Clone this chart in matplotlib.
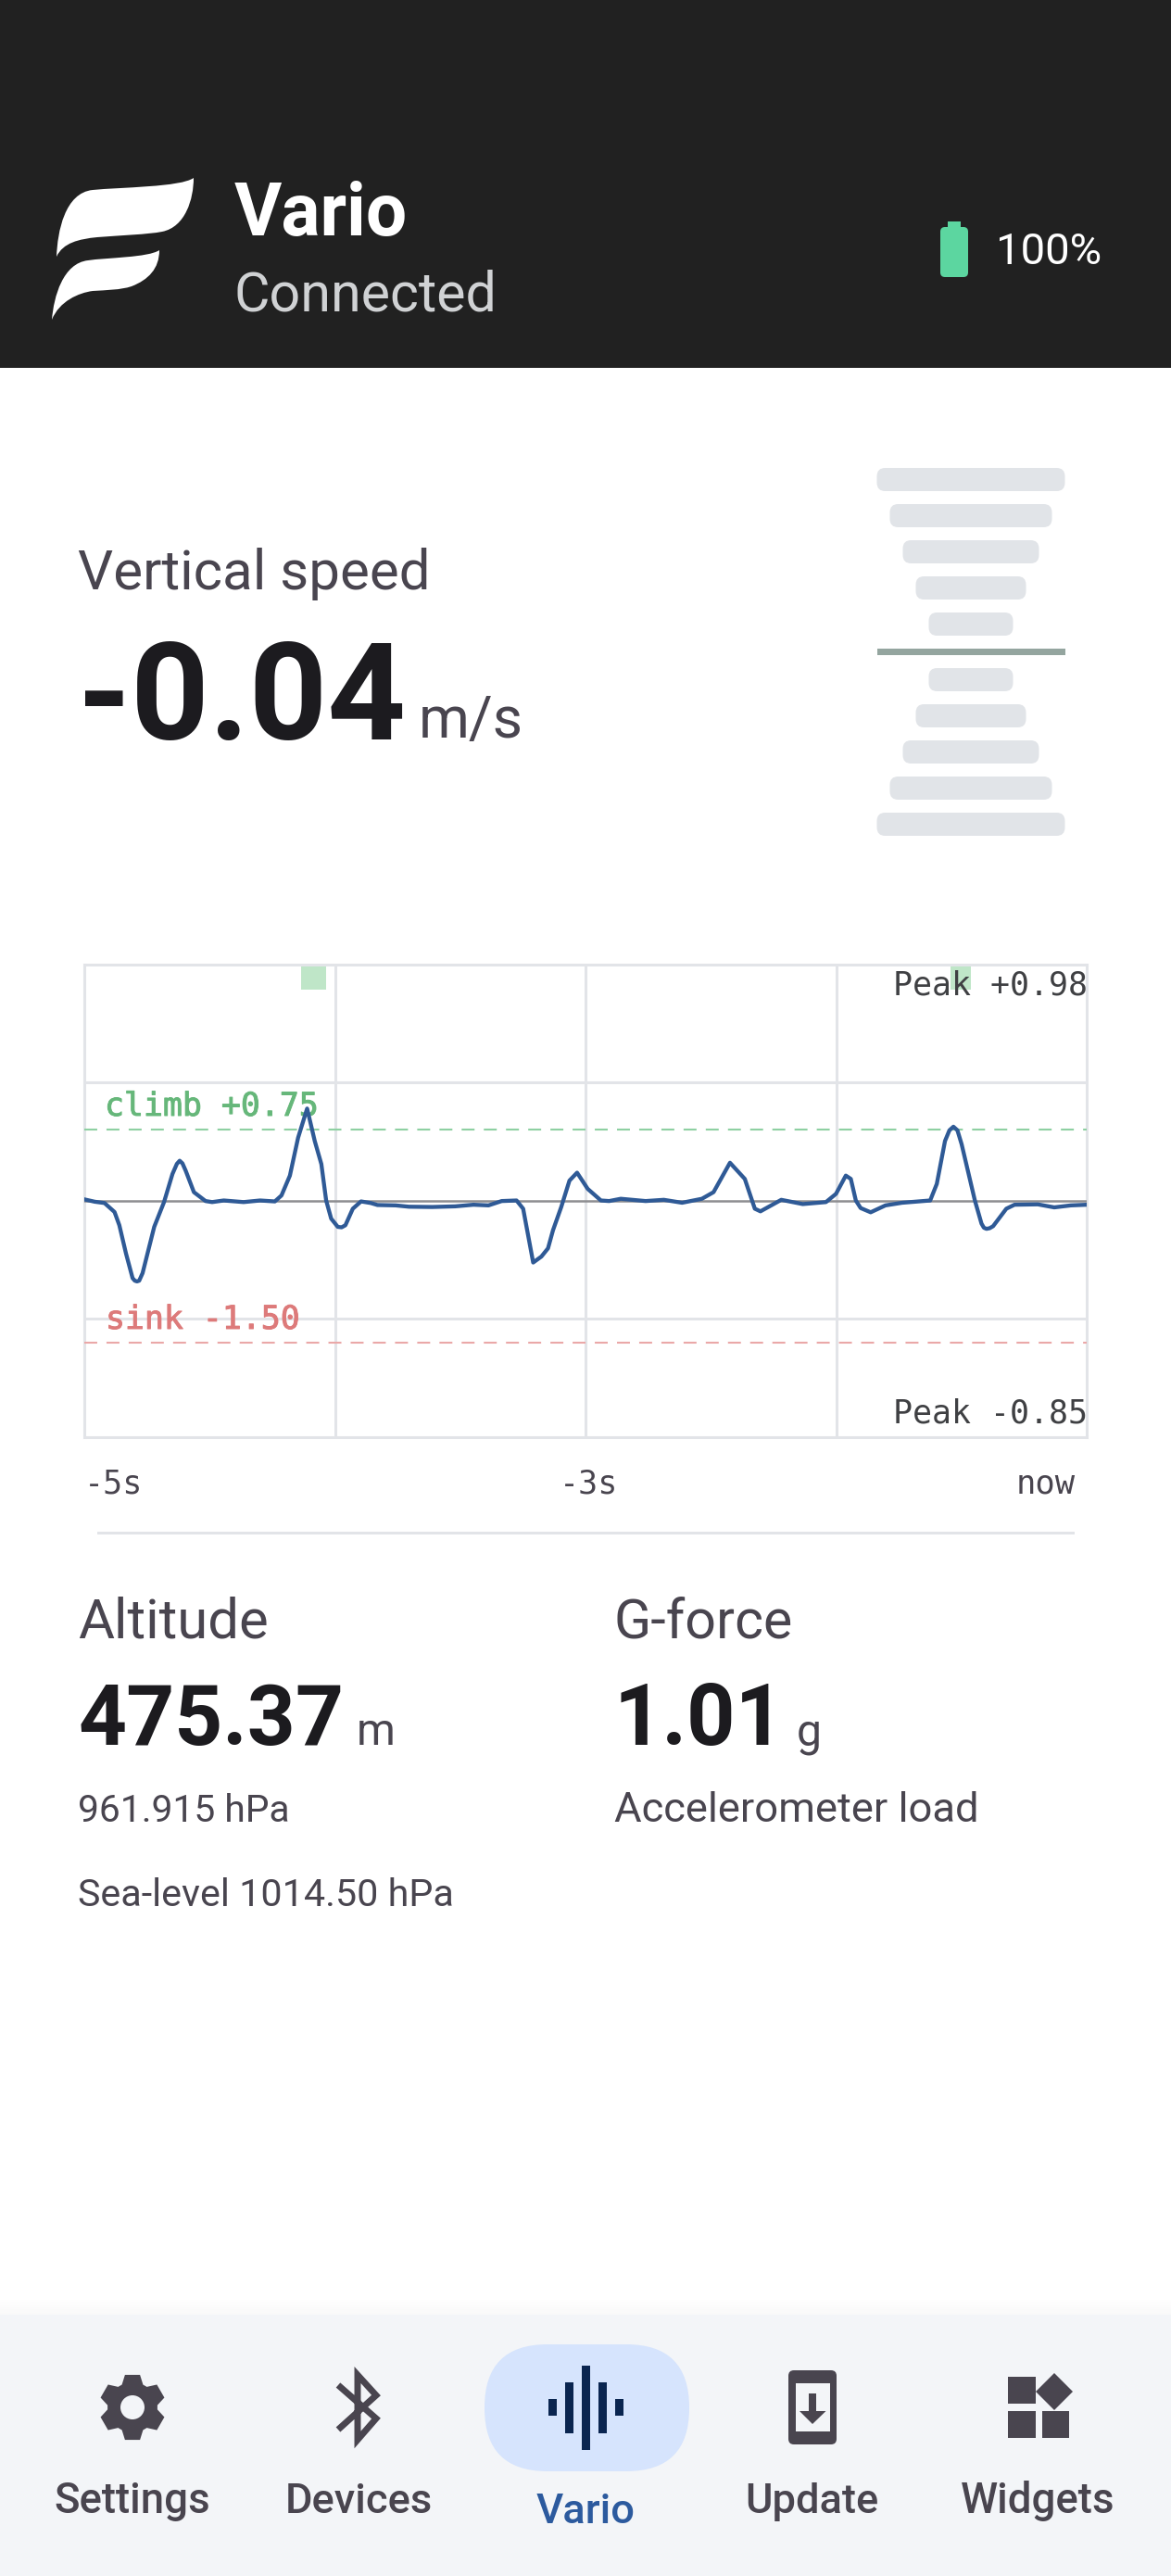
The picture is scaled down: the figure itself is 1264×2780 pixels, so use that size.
import numpy as np
import matplotlib
matplotlib.use("Agg")
import matplotlib.pyplot as plt
import matplotlib.patheffects as pe
from matplotlib.patches import FancyBboxPatch, Rectangle, Circle, Polygon, PathPatch
from matplotlib.path import Path

# vertical speed trace, seconds before now / m/s
trace_t = [-5.000, -4.950, -4.901, -4.851, -4.827, -4.794, -4.761, -4.750, -4.739, -4.728, -4.711, -4.653,
           -4.604, -4.562, -4.540, -4.526, -4.512, -4.496, -4.455, -4.397, -4.364, -4.306, -4.207, -4.125,
           -4.051, -4.018, -3.976, -3.935, -3.890, -3.852, -3.819, -3.795, -3.770, -3.737, -3.718,
           -3.699, -3.662, -3.621, -3.572, -3.539, -3.448, -3.382, -3.266, -3.151, -3.060,
           -2.985, -2.919, -2.845, -2.812, -2.762, -2.721, -2.688, -2.663, -2.622, -2.581,
           -2.543, -2.490, -2.424, -2.383, -2.325, -2.201, -2.110, -2.019, -1.920, -1.862,
           -1.780, -1.706, -1.681, -1.656, -1.628, -1.524, -1.417, -1.301, -1.251, -1.202,
           -1.177, -1.152, -1.128, -1.078, -1.004, -0.921, -0.781, -0.748, -0.707, -0.685, -0.665, -0.645,
           -0.624, -0.558, -0.525, -0.513, -0.500, -0.484, -0.467, -0.401, -0.360, -0.244, -0.162, -0.079, 0.0]
trace_v = [0.014, -0.010, -0.024, -0.119, -0.259, -0.556, -0.818, -0.845, -0.853, -0.845, -0.765, -0.276,
           -0.014, 0.283, 0.390, 0.423, 0.395, 0.318, 0.091, -0.003, -0.014, 0.003, -0.014, 0.003,
           -0.007, 0.056, 0.266, 0.667, 0.975, 0.632, 0.388, 0.003, -0.189, -0.276, -0.281,
           -0.259, -0.084, -0.007, -0.024, -0.045, -0.049, -0.063, -0.066, -0.059, -0.042,
           -0.049, -0.003, 0.003, -0.084, -0.653, -0.590, -0.503, -0.311, -0.066, 0.213,
           0.297, 0.126, 0.003, -0.003, 0.021, -0.003, 0.010, -0.021, 0.021, 0.091,
           0.402, 0.231, 0.073, -0.084, -0.112, 0.010, -0.035, -0.014, 0.073, 0.266,
           0.231, 0.003, -0.077, -0.122, -0.049, -0.021, 0.003, 0.178, 0.632, 0.745, 0.783, 0.745,
           0.597, 0.003, -0.241, -0.285, -0.297, -0.290, -0.269, -0.084, -0.042, -0.038, -0.070, -0.049, -0.042]
peak_start = [-3.922, -0.678]
peak_end = [-3.795, -0.579]
climb = 0.75
sink = -1.50
nav_labels = ["Settings", "Devices", "Vario", "Update", "Widgets"]
gauge_widths = [203, 175, 147, 119, 91]

W, H = 1264, 2780
DARK = "#212121"
INK = "#1c1b1f"
GREY = "#49454f"
LINE = "#e2e4e8"
NAV = "#f3f5f8"
ICON = "#49454f"
MONO = "DejaVu Sans Mono"

plt.rcParams["font.family"] = ["Roboto", "DejaVu Sans"]
fig = plt.figure(figsize=(W / 100, H / 100), dpi=100, facecolor="white")
ui = fig.add_axes([0, 0, 1, 1], zorder=0)
ui.set_xlim(0, W)
ui.set_ylim(H, 0)
ui.axis("off")
rend = fig.canvas.get_renderer()


def put(s, x0, x1, base, color=GREY, weight="normal", family="Roboto", ax=None, z=5):
    # real text, font size fitted so it spans x0..x1 px
    ax = ax or ui
    t = ax.text(x0, base, s, color=color, fontweight=weight, family=family, fontsize=30,
                va="baseline", ha="left", transform=ui.transData, zorder=z)
    w = t.get_window_extent(rend).width
    t.set_fontsize(30 * (x1 - x0) / w)
    return t


def rbox(x0, y0, x1, y1, r, color, z=2):
    ui.add_patch(FancyBboxPatch((x0, y0), x1 - x0, y1 - y0, boxstyle=f"round,pad=0,rounding_size={r}",
                                fc=color, ec="none", zorder=z))


def rect(x0, y0, x1, y1, color, z=2):
    ui.add_patch(Rectangle((x0, y0), x1 - x0, y1 - y0, fc=color, ec="none", zorder=z))


# header
rect(0, 0, W, 397, DARK, 1)
M, C = Path.MOVETO, Path.CURVE4
logo_top = [(209, 192), (195, 202), (130, 202), (100, 205), (70, 208), (62, 250), (61, 277),
            (68, 262), (85, 258), (105, 256), (130, 254), (160, 253), (175, 250), (200, 245), (209, 215), (209, 192)]
logo_low = [(172, 270), (160, 278), (115, 278), (95, 281), (68, 284), (58, 320), (56, 345),
            (64, 325), (85, 316), (100, 314), (115, 313), (130, 313), (142, 309), (160, 302), (172, 290), (172, 270)]
for shape in (logo_top, logo_low):
    ui.add_patch(PathPatch(Path(shape, [M] + [C] * 15), fc="white", ec="none", zorder=3))
put("Vario", 253, 440, 254, "white", "bold")
put("Connected", 253, 536, 335, "#d0d2d4")
rbox(1015, 245, 1045, 299, 5, "#5cd6a0", 3)
rect(1023, 239, 1037, 247, "#5cd6a0", 3)
put("100%", 1075, 1189, 285, "white")

# vertical speed
put("Vertical speed", 84, 463, 636)
put("-0.04", 84, 438, 798, INK, "bold")
put("m/s", 452, 565, 796)
cx = 1048
for i, w in enumerate(gauge_widths):
    rbox(cx - w / 2, 505 + 39 * i, cx + w / 2, 530 + 39 * i, 9, "#e1e4e8")
    rbox(cx - w / 2, 877 - 39 * i, cx + w / 2, 902 - 39 * i, 9, "#e1e4e8")
rect(946.5, 700, 1149.5, 707, "#94a59f")

# trace chart
px0, px1, py0, py1 = 91.4, 1173, 1040.7, 1551
ax = fig.add_axes([px0 / W, 1 - py1 / H, (px1 - px0) / W, (py1 - py0) / H], zorder=1, facecolor="white")
ax.set_xlim(-5, 0)
ax.set_ylim(-2.5, 2.5)
ax.set_xticks([-3.75, -2.5, -1.25])
ax.set_yticks([-1.25, 1.25])
ax.tick_params(length=0, labelbottom=False, labelleft=False)
ax.grid(color=LINE, lw=2.2, zorder=1)
ax.set_axisbelow(True)
for sp in ax.spines.values():
    sp.set_color(LINE)
    sp.set_linewidth(2.2)
for a, b in zip(peak_start, peak_end):
    ax.axvspan(a, b, ymin=0.947, ymax=1, fc="#bfe6c8", ec="none", zorder=2)
ax.axhline(0, color="#8e8e91", lw=1.8, zorder=3)
ax.axhline(climb, color="#8ed0a2", lw=1.5, dashes=(6.7, 4.8), zorder=3)
ax.axhline(sink, color="#eaa8a8", lw=1.5, dashes=(6.7, 4.8), zorder=3)
heavy = [pe.withStroke(linewidth=0.7, foreground="#66b77a")]
heavy2 = [pe.withStroke(linewidth=0.7, foreground="#dd7a7a")]
put("climb +0.75", 113, 343, 1204, "#66b77a", family=MONO, ax=ax, z=4).set_path_effects(heavy)
put("sink -1.50", 114, 323, 1434, "#dd7a7a", family=MONO, ax=ax, z=4).set_path_effects(heavy2)
put("Peak +0.98", 964, 1173, 1074, "#3f4043", family=MONO, ax=ax, z=4)
put("Peak -0.85", 964, 1173, 1536, "#3f4043", family=MONO, ax=ax, z=4)
ax.plot(trace_t, trace_v, color="#2f5a96", lw=3.1, solid_joinstyle="round", zorder=5)

put("-5s", 91, 154, 1612, family=MONO)
put("-3s", 604, 667, 1612, family=MONO)
put("now", 1097, 1161, 1612, family=MONO)
rect(105, 1652.5, 1160, 1655.5, LINE)

# readouts
put("Altitude", 84, 289, 1768)
put("475.37", 85, 371, 1883, INK, "bold")
put("m", 385, 427, 1883)
put("961.915 hPa", 84, 312, 1966)
put("Sea-level 1014.50 hPa", 84, 489, 2057)
put("G-force", 663, 856, 1768)
put("1.01", 663, 847, 1883, INK, "bold")
put("g", 860, 887, 1883)
put("Accelerometer load", 663, 1056, 1966)

# bottom nav
for i in range(8):
    rect(0, 2482 + 2 * i, W, 2484 + 2 * i, (0, 0, 0, 0.003 + 0.003 * i), 1)
rect(0, 2498, W, H, NAV, 1)
rbox(523, 2530, 744, 2667, 68, "#d6e4fd")
put(nav_labels[0], 58, 226, 2712, ICON, 500)
put(nav_labels[1], 308, 467, 2712, ICON, 500)
put(nav_labels[2], 579, 686, 2723, "#2c5a9e", 500)
put(nav_labels[3], 804, 948, 2712, ICON, 500)
put(nav_labels[4], 1037, 1203, 2712, ICON, 500)

# gear icon
gx, gy = 143, 2598
gear = []
for k in range(6):
    a = 90 + 60 * k
    for da, r in ((-25, 27), (-13, 36), (13, 36), (25, 27)):
        t = np.radians(a + da)
        gear.append((gx + r * np.cos(t), gy + r * np.sin(t)))
ui.add_patch(Polygon(gear, fc=ICON, ec="none", zorder=3))
ui.add_patch(Circle((gx, gy), 13, fc=NAV, ec="none", zorder=4))

# bluetooth icon
bt = [(365, 2622), (406, 2585), (386, 2563), (386, 2633), (406, 2610), (365, 2574)]
ui.plot(*zip(*bt), color=ICON, lw=5, solid_joinstyle="miter", solid_capstyle="butt", zorder=3)

# vario icon
for x0, y0, y1 in ((592, 2589, 2607), (610, 2571, 2626), (628, 2553, 2644), (646, 2571, 2626), (664, 2589, 2607)):
    rect(x0, y0, x0 + 9, y1, "#0a2550", 3)

# update icon
rbox(851, 2558, 903, 2638, 6, ICON, 3)
rect(858.5, 2572, 895.5, 2624, NAV, 4)
rect(873, 2583, 881, 2603, ICON, 5)
ui.add_patch(Polygon([(863, 2602), (891.5, 2602), (877, 2616)], fc=ICON, ec="none", zorder=5))

# widgets icon
rect(1088, 2565, 1117.5, 2594, ICON, 3)
rect(1088, 2602, 1117.5, 2631, ICON, 3)
rect(1125, 2602, 1154, 2631, ICON, 3)
ui.add_patch(Polygon([(1138, 2561), (1158, 2581), (1138, 2601), (1118, 2581)], fc=ICON, ec="none", zorder=3))

fig.savefig("out.png", dpi=100)
